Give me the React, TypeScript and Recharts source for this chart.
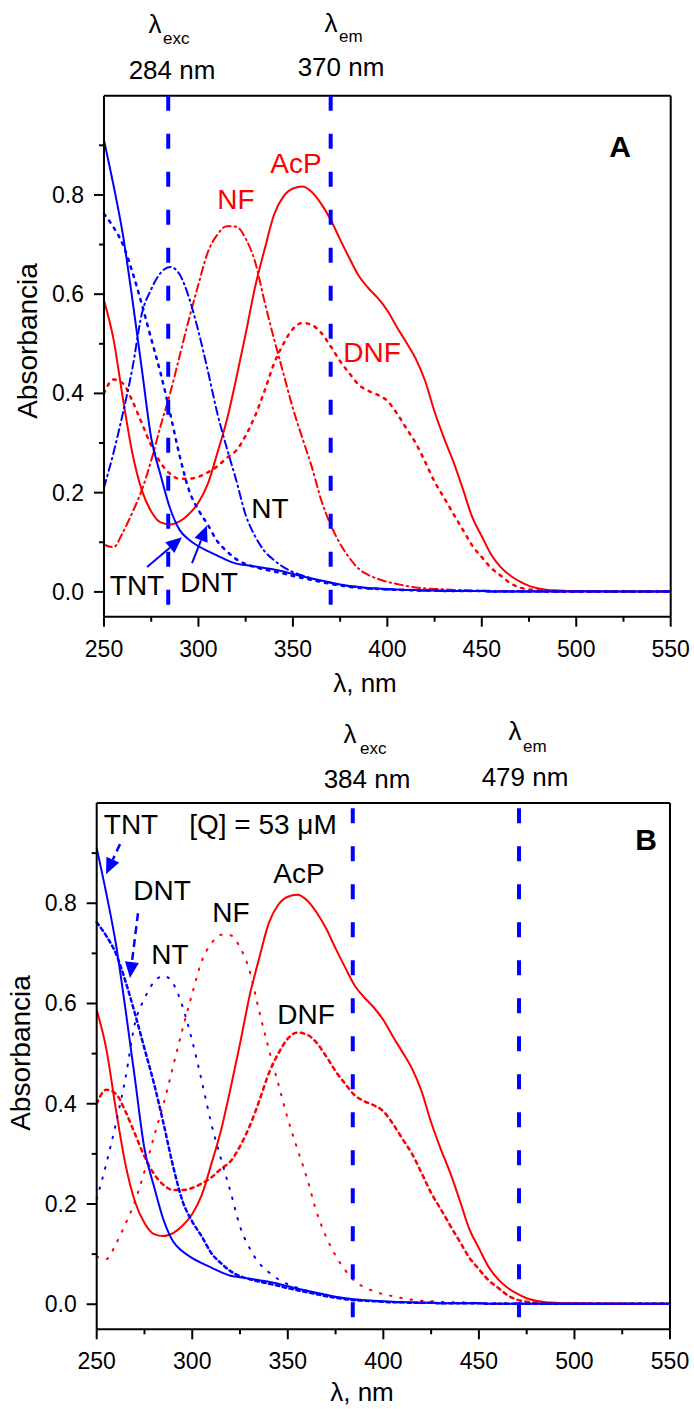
import React from 'react';
import { LineChart, Line, XAxis, YAxis, ReferenceLine } from 'recharts';

// wavelength grid (nm)
const wavelengths = [
  250, 255, 260, 265, 270, 275, 280, 285, 290, 295,
  300, 305, 310, 315, 320, 325, 330, 335, 340, 345,
  350, 355, 360, 365, 370, 375, 380, 385, 390, 395,
  400, 405, 410, 415, 420, 425, 430, 435, 440, 445,
  450, 455, 460, 465, 470, 475, 480, 485, 490, 495,
  500, 525, 550,
];

const tnt = [
  0.91, 0.82, 0.72, 0.59, 0.45, 0.31, 0.235, 0.168, 0.125, 0.105,
  0.092, 0.082, 0.073, 0.064, 0.057, 0.054, 0.051, 0.048, 0.045, 0.041,
  0.036, 0.031, 0.027, 0.023, 0.019, 0.015, 0.012, 0.01, 0.008, 0.007,
  0.006, 0.005, 0.004, 0.004, 0.003, 0.003, 0.002, 0.002, 0.002, 0.002,
  0.002, 0.001, 0.001, 0.001, 0.001, 0.001, 0.001, 0.001, 0.001, 0.001,
  0.001, 0.001, 0.001,
];

const dnt = [
  0.762, 0.735, 0.7, 0.645, 0.58, 0.51, 0.44, 0.36, 0.275, 0.205,
  0.165, 0.135, 0.102, 0.082, 0.066, 0.056, 0.05, 0.045, 0.041, 0.037,
  0.032, 0.028, 0.024, 0.02, 0.016, 0.013, 0.01, 0.008, 0.007, 0.006,
  0.005, 0.004, 0.004, 0.003, 0.003, 0.003, 0.002, 0.002, 0.002, 0.002,
  0.002, 0.001, 0.001, 0.001, 0.001, 0.001, 0.001, 0.001, 0.001, 0.001,
  0.001, 0.001, 0.001,
];

const nt = [
  0.21, 0.28, 0.36, 0.45, 0.56, 0.61, 0.643, 0.655, 0.64, 0.593,
  0.525, 0.445, 0.36, 0.29, 0.225, 0.155, 0.112, 0.082, 0.064, 0.05,
  0.04, 0.033, 0.027, 0.022, 0.018, 0.014, 0.011, 0.009, 0.007, 0.006,
  0.005, 0.004, 0.004, 0.003, 0.003, 0.003, 0.002, 0.002, 0.002, 0.002,
  0.002, 0.001, 0.001, 0.001, 0.001, 0.001, 0.001, 0.001, 0.001, 0.001,
  0.001, 0.001, 0.001,
];

const acp = [
  0.587, 0.51, 0.39, 0.28, 0.205, 0.162, 0.14, 0.136, 0.142, 0.157,
  0.18, 0.218, 0.28, 0.346, 0.43, 0.52, 0.615, 0.69, 0.76, 0.797,
  0.813, 0.817, 0.806, 0.782, 0.75, 0.71, 0.672, 0.636, 0.612, 0.592,
  0.567, 0.534, 0.503, 0.47, 0.425, 0.363, 0.31, 0.262, 0.207, 0.15,
  0.112, 0.075, 0.05, 0.033, 0.021, 0.012, 0.007, 0.004, 0.003, 0.002,
  0.002, 0.001, 0.001,
];

const nf = [
  0.095, 0.09, 0.12, 0.16, 0.205, 0.265, 0.335, 0.4, 0.475, 0.55,
  0.62, 0.685, 0.72, 0.737, 0.736, 0.712, 0.665, 0.585, 0.51, 0.44,
  0.37, 0.31, 0.252, 0.185, 0.135, 0.097, 0.068, 0.046, 0.034, 0.026,
  0.02, 0.016, 0.012, 0.009, 0.007, 0.006, 0.005, 0.004, 0.004, 0.003,
  0.003, 0.002, 0.002, 0.002, 0.002, 0.002, 0.002, 0.001, 0.001, 0.001,
  0.001, 0.001, 0.001,
];

const dnf = [
  0.4, 0.428, 0.42, 0.385, 0.34, 0.295, 0.26, 0.238, 0.228, 0.228,
  0.232, 0.241, 0.253, 0.27, 0.285, 0.315, 0.355, 0.405, 0.46, 0.5,
  0.53, 0.542, 0.538, 0.522, 0.495, 0.465, 0.44, 0.417, 0.405, 0.397,
  0.385, 0.36, 0.33, 0.3, 0.262, 0.222, 0.19, 0.157, 0.125, 0.093,
  0.07, 0.048, 0.033, 0.018, 0.009, 0.005, 0.003, 0.002, 0.002, 0.001,
  0.001, 0.001, 0.001,
];

const xTicks = [250, 275, 300, 325, 350, 375, 400, 425, 450, 475, 500, 525, 550];
const yTicks = [0, 0.1, 0.2, 0.3, 0.4, 0.5, 0.6, 0.7, 0.8, 0.9];
const X_MAX = 550;
const Y_MAX = 1.0;

// excitation / emission marker wavelengths
const linesA = [284, 370];
const linesB = [384, 471];

// arrows: [fromX, fromY, toX, toY]
const arrowsA = [
  [272.8, 0.05, 291.3, 0.11],
  [296.6, 0.058, 304.5, 0.134],
];
const arrowsB = [
  [262.2, 0.918, 254.9, 0.858],
  [271.6, 0.78, 267.4, 0.651],
];

const data = wavelengths.map((w, i) => ({
  w,
  tnt: tnt[i],
  dnt: dnt[i],
  nt: nt[i],
  acp: acp[i],
  nf: nf[i],
  dnf: dnf[i],
}));

const FONT = '"Liberation Sans", Arial, sans-serif';
const BLUE = '#0000FF';
const RED = '#FF0000';

const XTick = (props: any) => {
  const { x, y, payload } = props;
  const major = payload.value % 50 === 0;
  return (
    <g>
      <line x1={x} y1={y} x2={x} y2={y + (major ? 10 : 5)} stroke="#000" strokeWidth={2} />
      {major && (
        <text x={x} y={y + 40} textAnchor="middle" fontSize={23} fontFamily={FONT} fill="#000">
          {payload.value}
        </text>
      )}
    </g>
  );
};

const YTick = (props: any) => {
  const { x, y, payload } = props;
  const major = Math.round(payload.value * 10) % 2 === 0;
  return (
    <g>
      <line x1={x} y1={y} x2={x - (major ? 10 : 5)} y2={y} stroke="#000" strokeWidth={2} />
      {major && (
        <text x={x - 20} y={y + 8} textAnchor="end" fontSize={23} fontFamily={FONT} fill="#000">
          {payload.value.toFixed(1)}
        </text>
      )}
    </g>
  );
};

const makeArrow = (dash?: string, width = 2) => (props: any) => {
  const { x1, y1, x2, y2 } = props;
  const ang = Math.atan2(y2 - y1, x2 - x1);
  const L = 16;
  const W = 7;
  const bx = x2 - L * Math.cos(ang);
  const by = y2 - L * Math.sin(ang);
  const s = Math.sin(ang);
  const c = Math.cos(ang);
  const pts = `${x2},${y2} ${bx + W * s},${by - W * c} ${bx - W * s},${by + W * c}`;
  return (
    <g>
      <line x1={x1} y1={y1} x2={bx} y2={by} stroke={BLUE} strokeWidth={width} strokeDasharray={dash} />
      <polygon points={pts} fill={BLUE} />
    </g>
  );
};

type Style = { dash?: string; width: number };

interface PanelProps {
  top: number;
  height: number;
  margin: { top: number; right: number; bottom: number; left: number };
  yWidth: number;
  refs: number[];
  arrows: number[][];
  arrowDash?: string;
  arrowWidth: number;
  styles: { dnt: Style; nt: Style; nf: Style; dnf: Style };
}

function Panel({ top, height, margin, yWidth, refs, arrows, arrowDash, arrowWidth, styles }: PanelProps) {
  return (
    <div style={{ position: 'absolute', left: 0, top, width: 694, height }}>
      <LineChart width={694} height={height} data={data} margin={margin}>
        <XAxis
          dataKey="w"
          type="number"
          domain={[250, X_MAX]}
          ticks={xTicks}
          interval={0}
          tick={<XTick />}
          tickLine={false}
          tickSize={0}
          tickMargin={0}
          height={40}
          axisLine={{ stroke: '#000', strokeWidth: 2 }}
        />
        <YAxis
          type="number"
          domain={[-0.05, Y_MAX]}
          allowDataOverflow
          ticks={yTicks}
          interval={0}
          tick={<YTick />}
          tickLine={false}
          tickSize={0}
          tickMargin={0}
          width={yWidth}
          axisLine={{ stroke: '#000', strokeWidth: 2 }}
        />
        <Line type="monotone" dataKey="nf" stroke={RED} strokeWidth={styles.nf.width} strokeDasharray={styles.nf.dash} strokeLinecap="round" dot={false} isAnimationActive={false} />
        <Line type="monotone" dataKey="dnf" stroke={RED} strokeWidth={styles.dnf.width} strokeDasharray={styles.dnf.dash} strokeLinecap="round" dot={false} isAnimationActive={false} />
        <Line type="monotone" dataKey="acp" stroke={RED} strokeWidth={2} dot={false} isAnimationActive={false} />
        <Line type="monotone" dataKey="nt" stroke={BLUE} strokeWidth={styles.nt.width} strokeDasharray={styles.nt.dash} strokeLinecap="round" dot={false} isAnimationActive={false} />
        <Line type="monotone" dataKey="dnt" stroke={BLUE} strokeWidth={styles.dnt.width} strokeDasharray={styles.dnt.dash} strokeLinecap="round" dot={false} isAnimationActive={false} />
        <Line type="monotone" dataKey="tnt" stroke={BLUE} strokeWidth={2} dot={false} isAnimationActive={false} />
        {/* frame: top and right edges */}
        <ReferenceLine y={Y_MAX} stroke="#000" strokeWidth={2} />
        <ReferenceLine x={X_MAX} stroke="#000" strokeWidth={2} />
        {refs.map((x) => (
          <ReferenceLine key={x} x={x} stroke={BLUE} strokeWidth={4} strokeDasharray="15 23" strokeDashoffset={-12} />
        ))}
        {arrows.map((a, i) => (
          <ReferenceLine
            key={'arr' + i}
            segment={[{ x: a[0], y: a[1] }, { x: a[2], y: a[3] }]}
            shape={makeArrow(arrowDash, arrowWidth)}
          />
        ))}
      </LineChart>
    </div>
  );
}

const T = (p: { x: number; y: number; s?: number; c?: string; a?: string; b?: boolean; children: React.ReactNode }) => (
  <text
    x={p.x}
    y={p.y}
    fontSize={p.s ?? 28}
    fill={p.c ?? '#000'}
    textAnchor={(p.a as any) ?? 'middle'}
    fontWeight={p.b ? 'bold' : 'normal'}
    fontFamily={FONT}
  >
    {p.children}
  </text>
);

export default function App() {
  return (
    <div style={{ position: 'absolute', left: 0, top: 0, width: 694, height: 1409, background: '#fff', overflow: 'hidden' }}>
      <Panel
        top={0}
        height={700}
        margin={{ top: 95.7, right: 23.3, bottom: 43.3, left: 0 }}
        yWidth={104}
        refs={linesA}
        arrows={arrowsA}
        arrowWidth={2}
        styles={{
          dnt: { dash: '2.5 6', width: 2.5 },
          nt: { dash: '8 4 1.5 4', width: 2 },
          nf: { dash: '8 4 1.5 4', width: 2 },
          dnf: { dash: '2.5 6', width: 2.5 },
        }}
      />
      <Panel
        top={700}
        height={709}
        margin={{ top: 103, right: 24, bottom: 39.7, left: 0 }}
        yWidth={96.7}
        refs={linesB}
        arrows={arrowsB}
        arrowDash="8 5"
        arrowWidth={2.5}
        styles={{
          dnt: { dash: '3.5 3.5', width: 2.5 },
          nt: { dash: '1.5 9', width: 2 },
          nf: { dash: '1.5 9', width: 2 },
          dnf: { dash: '3.5 4.5', width: 2.5 },
        }}
      />
      <svg width={694} height={1409} style={{ position: 'absolute', left: 0, top: 0, pointerEvents: 'none' }}>
        {/* panel A headers */}
        <T x={155} y={33} s={26}>λ</T>
        <T x={163} y={44} s={17} a="start">exc</T>
        <T x={172} y={79} s={26}>284 nm</T>
        <T x={331} y={32} s={26}>λ</T>
        <T x={339} y={42} s={17} a="start">em</T>
        <T x={341} y={76} s={26}>370 nm</T>
        {/* panel A labels */}
        <T x={296} y={173} c={RED}>AcP</T>
        <T x={236} y={209} c={RED}>NF</T>
        <T x={372} y={362} c={RED}>DNF</T>
        <T x={270} y={518}>NT</T>
        <T x={137} y={595}>TNT</T>
        <T x={209} y={592}>DNT</T>
        <T x={620} y={157} s={30} b>A</T>
        <T x={365} y={692} s={26}>λ, nm</T>
        <text x={37} y={341} transform="rotate(-90 37 341)" fontSize={28} textAnchor="middle" fontFamily={FONT} fill="#000">
          Absorbancia
        </text>
        {/* panel B headers */}
        <T x={350} y={743} s={26}>λ</T>
        <T x={360} y={754} s={17} a="start">exc</T>
        <T x={367} y={788} s={26}>384 nm</T>
        <T x={515} y={740} s={26}>λ</T>
        <T x={523} y={752} s={17} a="start">em</T>
        <T x={525} y={786} s={26}>479 nm</T>
        {/* panel B labels */}
        <T x={131} y={834}>TNT</T>
        <T x={263} y={834}>[Q] = 53 μM</T>
        <T x={162} y={900}>DNT</T>
        <T x={231} y={922}>NF</T>
        <T x={170} y={964}>NT</T>
        <T x={299} y={883}>AcP</T>
        <T x={306} y={1024}>DNF</T>
        <T x={646} y={850} s={30} b>B</T>
        <T x={362} y={1401} s={26}>λ, nm</T>
        <text x={30} y={1053} transform="rotate(-90 30 1053)" fontSize={28} textAnchor="middle" fontFamily={FONT} fill="#000">
          Absorbancia
        </text>
      </svg>
    </div>
  );
}
